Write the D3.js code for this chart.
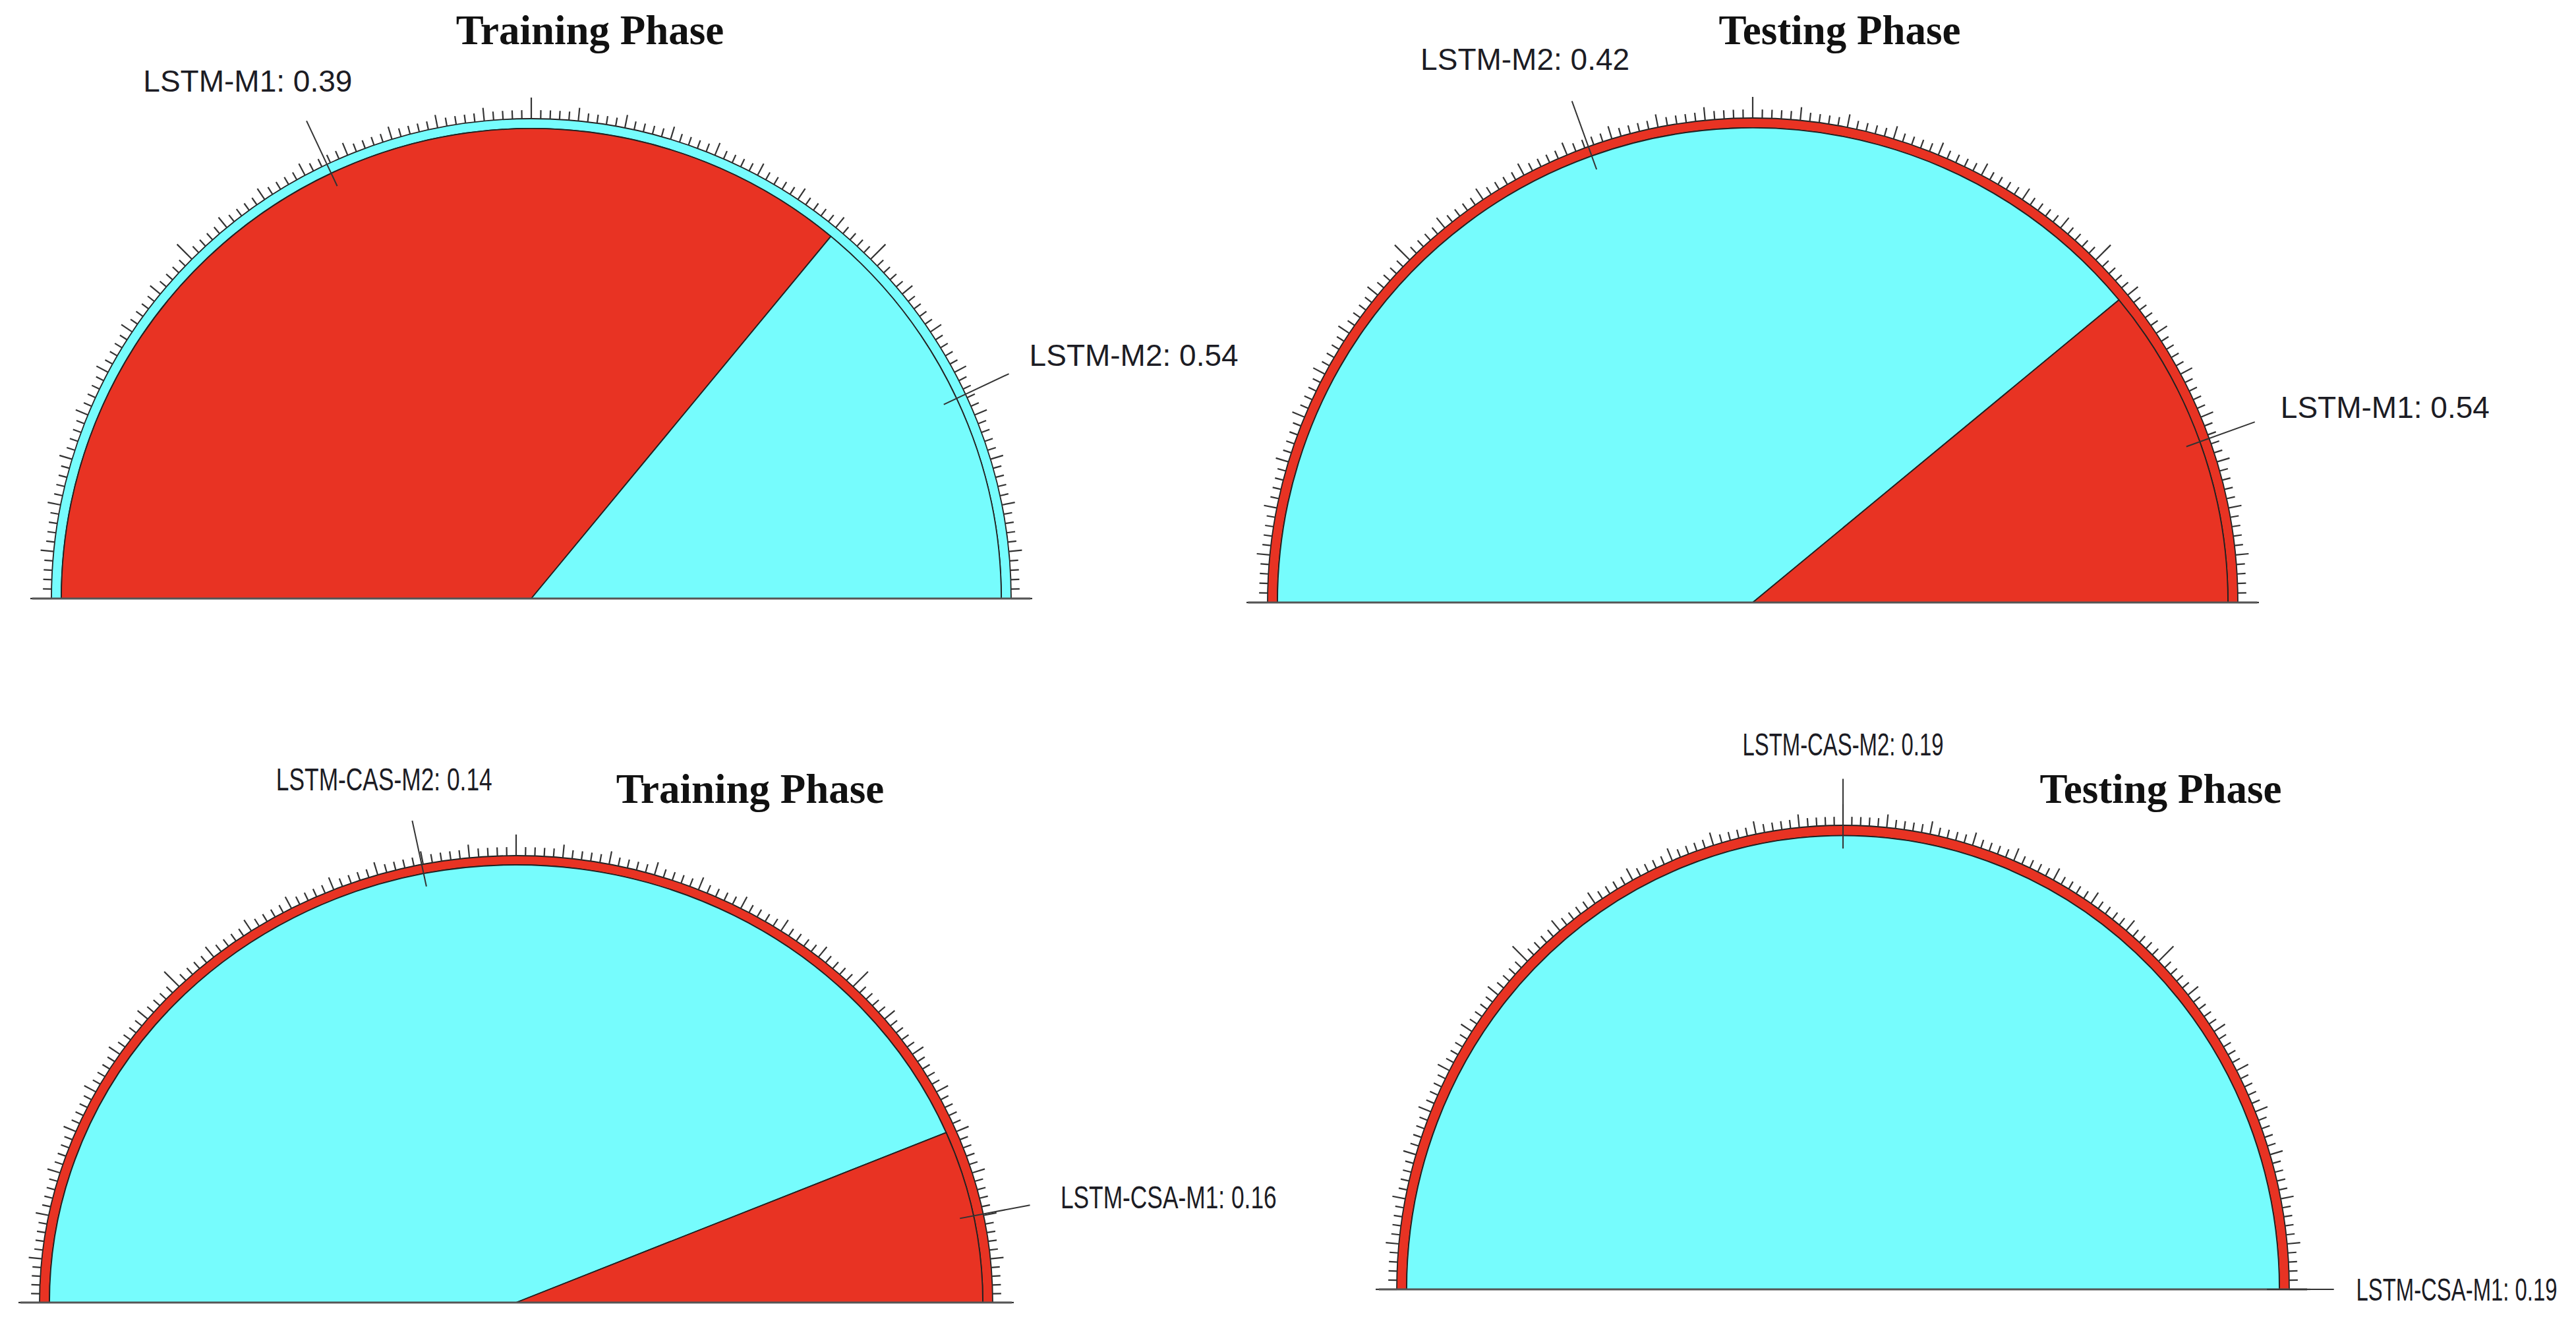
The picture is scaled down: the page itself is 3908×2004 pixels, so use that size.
<!DOCTYPE html>
<html>
<head>
<meta charset="utf-8">
<script src="https://cdn.jsdelivr.net/npm/d3@7"></script>
<style>
  body { margin: 0; background: #fff; }
  svg { display: block; }
</style>
</head>
<body>
<svg id="chart"></svg>
<script>
// data of the four half discs (top-left, top-right, bottom-left, bottom-right)
const phaseTitles = ["Training Phase", "Testing Phase", "Training Phase", "Testing Phase"];
const m1Names = ["LSTM-M1", "LSTM-M1", "LSTM-CSA-M1", "LSTM-CSA-M1"];
const m2Names = ["LSTM-M2", "LSTM-M2", "LSTM-CAS-M2", "LSTM-CAS-M2"];
const m1Values = [0.39, 0.54, 0.16, 0.19];
const m2Values = [0.54, 0.42, 0.14, 0.19];
// part of the half disc taken by each wedge
const m1Shares = [0.72, 0.22, 0.127, 0];
const m2Shares = [0.28, 0.78, 0.873, 1];

const colors = { M1: "#e83323", M2: "#76fcfd" };

// where each half disc sits on the page
const panels = [
  { cx: 806,  cy: 908,  rx: 728, ry: 728, tx: 895,  ty: 67,   fs: 46, width: null, lab: 1.17 },
  { cx: 2659, cy: 914,  rx: 736, ry: 735, tx: 2791, ty: 67,   fs: 46, width: null, lab: 1.17 },
  { cx: 783,  cy: 1976, rx: 723, ry: 678, tx: 1138, ty: 1218, fs: 48, width: 328,  lab: 1.17 },
  { cx: 2796, cy: 1956, rx: 677, ry: 704, tx: 3278, ty: 1218, fs: 48, width: 305,  lab: 1.15 }
];

const ringW = 15;       // outer band
const nTicks = 160;     // small ticks on the rim

let svg = d3.select("#chart")
  .attr("width", 3908)
  .attr("height", 2004);

svg.append("rect").attr("width", 3908).attr("height", 2004).attr("fill", "#fff");

let pie = d3.pie().sort(null).value(d => d.share)
  .startAngle(-Math.PI / 2).endAngle(Math.PI / 2);

// tick index -> angle (left end = 180 deg, right end = 0 deg)
let tickAngle = d3.scaleLinear().domain([0, nTicks]).range([Math.PI, 0]);
let tickLen = d => d % 40 === 0 ? 32 : (d % 5 === 0 ? 20 : 13);

panels.forEach((p, i) => {
  let items = [
    { key: "M1", name: m1Names[i], value: m1Values[i], share: m1Shares[i] },
    { key: "M2", name: m2Names[i], value: m2Values[i], share: m2Shares[i] }
  ];
  // smaller value on the left, the larger one also makes the outer band
  items.sort((a, b) => (a.value - b.value) || (a.key === "M2" ? -1 : 1));
  let ringKey = items[1].key;

  let g = svg.append("g")
    .attr("transform", `translate(${p.cx},${p.cy}) scale(1,${p.ry / p.rx})`);

  // outer band
  g.append("path")
    .attr("d", d3.arc()({ innerRadius: p.rx - ringW, outerRadius: p.rx, startAngle: -Math.PI / 2, endAngle: Math.PI / 2 }))
    .attr("fill", colors[ringKey])
    .attr("stroke", "#222")
    .attr("stroke-width", 1.8)
    .attr("vector-effect", "non-scaling-stroke");

  // wedges
  let arcs = pie(items);
  g.selectAll("path.wedge")
    .data(arcs)
    .join("path")
    .attr("class", "wedge")
    .attr("d", d3.arc().innerRadius(0).outerRadius(p.rx - ringW))
    .attr("fill", d => colors[d.data.key])
    .attr("stroke", "#222")
    .attr("stroke-width", 1.8)
    .attr("vector-effect", "non-scaling-stroke");

  // rim ticks
  svg.append("g").selectAll("line")
    .data(d3.range(0, nTicks + 1))
    .join("line")
    .attr("x1", d => p.cx + p.rx * Math.cos(tickAngle(d)))
    .attr("y1", d => p.cy - p.ry * Math.sin(tickAngle(d)))
    .attr("x2", d => p.cx + (p.rx + tickLen(d)) * Math.cos(tickAngle(d)))
    .attr("y2", d => p.cy - (p.ry + tickLen(d)) * Math.sin(tickAngle(d)))
    .attr("stroke", "#333")
    .attr("stroke-width", 2.2);

  // base line
  svg.append("line")
    .attr("x1", p.cx - 1.04 * p.rx).attr("x2", p.cx + 1.04 * p.rx)
    .attr("y1", p.cy).attr("y2", p.cy)
    .attr("stroke", "#555")
    .attr("stroke-width", 3);

  // label lines and labels at the middle of each wedge
  arcs.forEach(a => {
    let mid = (a.startAngle + a.endAngle) / 2;
    let c = Math.sin(mid), s = Math.cos(mid);   // cos / sin of the math angle
    svg.append("line")
      .attr("x1", p.cx + 0.95 * p.rx * c).attr("y1", p.cy - 0.95 * p.ry * s)
      .attr("x2", p.cx + 1.10 * p.rx * c).attr("y2", p.cy - 1.10 * p.ry * s)
      .attr("stroke", "#333")
      .attr("stroke-width", 2);

    let px = p.cx + p.lab * p.rx * c;
    let py = p.cy - p.lab * p.ry * s;
    let t = svg.append("text")
      .attr("font-family", "'Liberation Sans', Arial, sans-serif")
      .attr("font-size", p.fs)
      .attr("fill", "#1c1c24")
      .text(`${a.data.name}: ${a.data.value.toFixed(2)}`);
    let w = t.node().getComputedTextLength();
    let sx = p.width ? p.width / w : 1;   // narrow labels on the lower row
    w = w * sx;
    let h = 0.716 * p.fs;
    t.attr("transform", `translate(${px - (1 - c) / 2 * w},${py + (1 - s) / 2 * h}) scale(${sx},1)`);
  });

  // title
  svg.append("text")
    .attr("x", p.tx).attr("y", p.ty)
    .attr("text-anchor", "middle")
    .attr("font-family", "'Liberation Serif', 'Times New Roman', serif")
    .attr("font-weight", "bold")
    .attr("font-size", 63)
    .attr("fill", "#111")
    .text(phaseTitles[i]);
});
</script>
</body>
</html>
